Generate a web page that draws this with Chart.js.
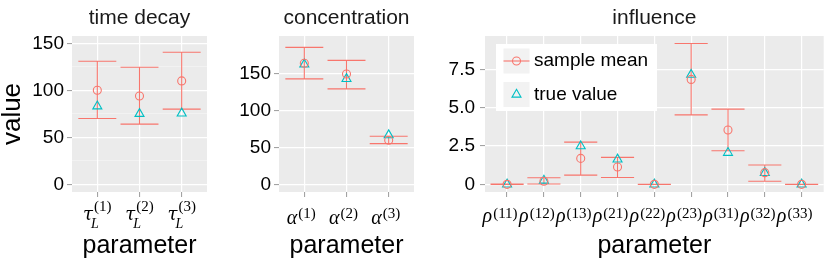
<!DOCTYPE html>
<html lang="en">
<head>
<meta charset="UTF-8">
<title>Posterior estimates</title>
<script src="https://cdn.jsdelivr.net/npm/chart.js"></script>
<style>
  body { margin: 0; background: #fff; }
  #wrap { position: relative; width: 830px; height: 261px; }
  #wrap canvas { position: absolute; left: 0; top: 0; }
</style>
</head>
<body>
<div id="wrap">
  <canvas id="decay" width="830" height="261"></canvas>
  <canvas id="conc" width="830" height="261"></canvas>
  <canvas id="infl" width="830" height="261"></canvas>
</div>

<script>
// ---- data ----
const seriesNames = ['sample mean', 'true value'];
const panelTitles = ['time decay', 'concentration', 'influence'];
const xTitle = 'parameter';
const yTitle = 'value';

// time decay: tau_L^(k)
const decaySup = ['(1)', '(2)', '(3)'];
const decayMean = [100, 94, 110];
const decayTrue = [83, 75, 75.5];
const decayLow = [70, 64, 80];
const decayHigh = [131, 124.5, 140.5];
const decayTicks = [0, 50, 100, 150];
const decayTickLabels = ['0', '50', '100', '150'];
const decayMinor = [25, 75, 125];

// concentration: alpha^(k)
const concSup = ['(1)', '(2)', '(3)'];
const concMean = [163.5, 149, 59.5];
const concTrue = [162, 142.5, 66.5];
const concLow = [142.5, 129, 55];
const concHigh = [185, 167.5, 65];
const concTicks = [0, 50, 100, 150];
const concTickLabels = ['0', '50', '100', '150'];
const concMinor = [25, 75, 125, 175];

// influence: rho^(ij)
const inflSup = ['(11)', '(12)', '(13)', '(21)', '(22)', '(23)', '(31)', '(32)', '(33)'];
const inflMean = [0, 0.2, 1.69, 1.13, 0, 6.84, 3.54, 0.76, 0];
const inflTrue = [0, 0.25, 2.49, 1.63, 0, 7.15, 2.06, 0.75, 0];
const inflLow = [0, 0.02, 0.6, 0.45, 0, 4.53, 2.19, 0.2, 0];
const inflHigh = [0.02, 0.43, 2.75, 1.76, 0, 9.18, 4.9, 1.26, 0];
const inflTicks = [0, 2.5, 5, 7.5];
const inflTickLabels = ['0', '2.5', '5.0', '7.5'];
const inflMinor = [1.25, 3.75, 6.25, 8.75];

const RED = '#F8766D';
const CYAN = '#00BFC4';
const SANS = '"Liberation Sans", Arial, sans-serif';
const SERIF = '"Liberation Serif", serif';

// draws panel background, error bars, strip title, math tick labels, legend
function panelPlugin(cfg) {
  return {
    id: 'panel_' + cfg.id,
    beforeDraw(chart) {
      const a = chart.chartArea, ctx = chart.ctx;
      ctx.save();
      ctx.fillStyle = '#EBEBEB';
      ctx.fillRect(a.left, a.top, a.right - a.left, a.bottom - a.top);
      ctx.restore();
    },
    beforeDatasetsDraw(chart) {
      const ctx = chart.ctx, xs = chart.scales.x, ys = chart.scales.y;
      const half = xs.getPixelForValue(0.45) - xs.getPixelForValue(0);
      ctx.save();
      ctx.strokeStyle = RED;
      ctx.lineWidth = 1.1;
      cfg.low.forEach((lo, i) => {
        const x = xs.getPixelForValue(i);
        const y1 = ys.getPixelForValue(lo), y2 = ys.getPixelForValue(cfg.high[i]);
        ctx.beginPath();
        ctx.moveTo(x, y1); ctx.lineTo(x, y2);
        ctx.moveTo(x - half, y1); ctx.lineTo(x + half, y1);
        ctx.moveTo(x - half, y2); ctx.lineTo(x + half, y2);
        ctx.stroke();
      });
      ctx.restore();
    },
    afterDraw(chart) {
      const ctx = chart.ctx, a = chart.chartArea, xs = chart.scales.x;
      ctx.save();
      // strip title
      ctx.fillStyle = '#1a1a1a';
      ctx.font = '21px ' + SANS;
      ctx.textAlign = 'center';
      ctx.textBaseline = 'alphabetic';
      ctx.fillText(cfg.title, (a.left + a.right) / 2, 24);

      // tick labels with sub/superscripts
      ctx.fillStyle = '#000';
      ctx.textAlign = 'left';
      const baseFont = cfg.baseFont || ('italic 20px ' + SERIF);
      const supFont = '15px ' + SERIF;
      cfg.sup.forEach((sup, i) => {
        const cx = xs.getPixelForValue(i) + cfg.shift;
        ctx.font = baseFont;
        const wb = ctx.measureText(cfg.base).width;
        ctx.font = supFont;
        const ws = ctx.measureText(sup).width;
        const w = wb + 1 + ws;
        const x0 = cx - w / 2;
        ctx.font = baseFont;
        ctx.fillText(cfg.base, x0, a.bottom + cfg.baseY);
        if (cfg.sub) {
          ctx.font = 'italic 14px ' + SERIF;
          ctx.fillText(cfg.sub, x0 + wb - 2, a.bottom + cfg.subY);
        }
        ctx.font = supFont;
        ctx.fillText(sup, x0 + wb + 1, a.bottom + cfg.supY);
      });

      // legend inside the panel
      if (cfg.legend) {
        const lx = a.left + 11, ly = a.top + 8;
        ctx.fillStyle = '#fff';
        ctx.fillRect(lx, ly, 161, 67);
        const keys = [ly + 4.5, ly + 38];
        keys.forEach((ky, k) => {
          ctx.fillStyle = '#F2F2F2';
          ctx.fillRect(lx + 7.5, ky, 26, 25);
          const mx = lx + 20.5, my = ky + 12.5;
          ctx.fillStyle = 'rgba(0,0,0,0)';
          if (k === 0) {
            ctx.strokeStyle = RED;
            ctx.lineWidth = 1.1;
            ctx.beginPath();
            ctx.moveTo(lx + 7.5, my); ctx.lineTo(lx + 33.5, my);
            ctx.stroke();
            Chart.helpers.drawPoint(ctx, {pointStyle: 'circle', radius: 4, borderWidth: 1.1, rotation: 0}, mx, my);
          } else {
            ctx.strokeStyle = CYAN;
            ctx.lineWidth = 1.1;
            Chart.helpers.drawPoint(ctx, {pointStyle: 'triangle', radius: 5.2, borderWidth: 1.1, rotation: 0}, mx, my);
          }
          ctx.fillStyle = '#000';
          ctx.font = '19px ' + SANS;
          ctx.textBaseline = 'middle';
          ctx.fillText(seriesNames[k], lx + 38, my);
          ctx.textBaseline = 'alphabetic';
        });
      }
      ctx.restore();
    }
  };
}

function makePanel(cfg) {
  const n = cfg.sup.length;
  const isMajor = c => c.tick && cfg.ticks.includes(c.tick.value);
  return new Chart(document.getElementById(cfg.id), {
    type: 'scatter',
    data: {
      datasets: [
        {
          label: seriesNames[0],
          data: cfg.mean.map((v, i) => ({x: i, y: v})),
          pointStyle: 'circle',
          pointRadius: 4,
          borderColor: RED,
          backgroundColor: 'rgba(0,0,0,0)',
          borderWidth: 1.1
        },
        {
          label: seriesNames[1],
          data: cfg.truth.map((v, i) => ({x: i, y: v})),
          pointStyle: 'triangle',
          pointRadius: 5.2,
          borderColor: CYAN,
          backgroundColor: 'rgba(0,0,0,0)',
          borderWidth: 1.1
        }
      ]
    },
    options: {
      responsive: false,
      animation: false,
      events: [],
      layout: {padding: {left: cfg.left - cfg.axisW, right: 830 - cfg.right, top: 36, bottom: 0}},
      plugins: {legend: {display: false}, tooltip: {enabled: false}},
      scales: {
        x: {
          type: 'linear',
          min: -0.6,
          max: n - 0.4,
          afterBuildTicks: s => { s.ticks = cfg.sup.map((_, i) => ({value: i})); },
          afterFit: s => { s.height = 69; },
          ticks: {display: false},
          grid: {color: '#fff', lineWidth: 1.2, tickLength: 5, tickColor: '#9a9a9a', tickWidth: 1},
          border: {display: false},
          title: {display: true, text: xTitle, color: '#000',
                  font: {family: SANS, size: 25, lineHeight: 1}, padding: {top: 0, bottom: 2}}
        },
        y: {
          type: 'linear',
          min: cfg.yMin,
          max: cfg.yMax,
          afterBuildTicks: s => {
            s.ticks = cfg.ticks.concat(cfg.minor).sort((p, q) => p - q).map(v => ({value: v}));
          },
          afterFit: s => { s.width = cfg.axisW; },
          ticks: {
            color: '#000',
            font: {family: SANS, size: 19},
            padding: cfg.tickPad,
            callback: v => {
              const k = cfg.ticks.indexOf(v);
              return k < 0 ? '' : cfg.tickLabels[k];
            }
          },
          grid: {
            color: c => isMajor(c) ? '#fff' : 'rgba(255,255,255,0.55)',
            lineWidth: c => isMajor(c) ? 1.2 : 0.7,
            tickColor: c => isMajor(c) ? '#9a9a9a' : 'rgba(0,0,0,0)',
            tickLength: 5,
            tickWidth: 1
          },
          border: {display: false},
          title: {display: !!cfg.yTitle, text: cfg.yTitle || '', color: '#000',
                  font: {family: SANS, size: 26, lineHeight: 1}, padding: {top: 0, bottom: 0}}
        }
      }
    },
    plugins: [panelPlugin(cfg)]
  });
}

makePanel({
  id: 'decay', title: panelTitles[0], yTitle: yTitle,
  left: 72, right: 207, axisW: 72, tickPad: 3,
  yMin: -8.2, yMax: 157.8,
  ticks: decayTicks, tickLabels: decayTickLabels, minor: decayMinor,
  sup: decaySup, mean: decayMean, truth: decayTrue, low: decayLow, high: decayHigh,
  base: 'τ', sub: 'L', baseFont: 'italic 18px "DejaVu Serif", serif',
  shift: 0, baseY: 28, subY: 35.5, supY: 19
});

makePanel({
  id: 'conc', title: panelTitles[1],
  left: 279, right: 414, axisW: 49, tickPad: 3,
  yMin: -10.4, yMax: 200.4,
  ticks: concTicks, tickLabels: concTickLabels, minor: concMinor,
  sup: concSup, mean: concMean, truth: concTrue, low: concLow, high: concHigh,
  base: 'α', sub: '', shift: -3, baseY: 32, subY: 0, supY: 26
});

makePanel({
  id: 'infl', title: panelTitles[2], legend: true,
  left: 485, right: 829, axisW: 45, tickPad: 5,
  yMin: -0.5, yMax: 9.67,
  ticks: inflTicks, tickLabels: inflTickLabels, minor: inflMinor,
  sup: inflSup, mean: inflMean, truth: inflTrue, low: inflLow, high: inflHigh,
  base: 'ρ', sub: '', shift: -7, baseY: 30, subY: 0, supY: 26
});
</script>
</body>
</html>
